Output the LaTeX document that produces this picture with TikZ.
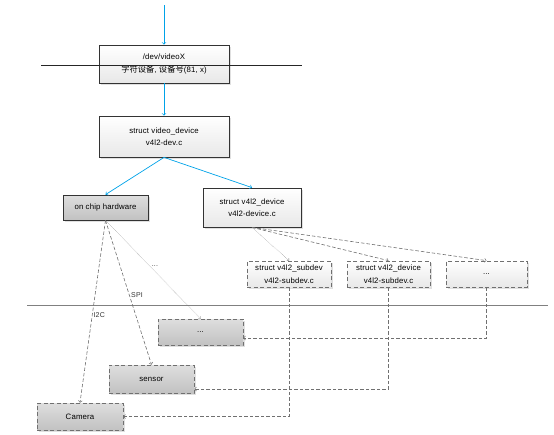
\documentclass[tikz,border=0pt]{standalone}
\usepackage{fontspec}
\setmainfont[LetterSpace=2]{Liberation Sans}
\newfontfamily\cjkfont{Noto Sans CJK SC}
\usepackage{tikz}
\usetikzlibrary{arrows,positioning,shadows}
\definecolor{linkblue}{RGB}{0,162,232}
\definecolor{boxgray}{RGB}{112,112,112}

\begin{document}
\begin{tikzpicture}[x=1pt,y=1pt,on grid,auto,>=to,
    font=\fontsize{7.8}{12.5}\selectfont,
    block/.style={rectangle,draw=black!80,line width=.8pt,top color=white,bottom color=black!9,
      align=center,inner sep=0pt,general shadow={fill=black!12,shadow xshift=1.5pt,shadow yshift=-1.5pt}},
    hw/.style={block,top color=black!13,bottom color=black!24},
    opt/.style={draw=boxgray,dash pattern=on 4pt off 2.5pt},
    link/.style={->,draw=linkblue,line width=.7pt},
    dep/.style={->,draw=boxgray,line width=.6pt,dash pattern=on 3.5pt off 2pt},
    hint/.style={->,draw=black!55,line width=.4pt,densely dotted},
    bus/.style={font=\fontsize{7}{8}\selectfont,fill=white,inner sep=.6pt,text=black!80}]

  \useasboundingbox (0,0) rectangle (554,-434);

  \node[block,minimum width=130,minimum height=38]	(0) at (164,-64)	{/dev/videoX\\{\cjkfont\fontsize{8.3}{12.5}\selectfont 字符设备}, {\cjkfont\fontsize{8.3}{12.5}\selectfont 设备号}(81, x)};
  \node[block,minimum width=130,minimum height=41]	(1) [below=72.5 of 0]	{struct video\_device\\v4l2-dev.c};
  \node[hw,minimum width=85,minimum height=25]	(2) at (105.5,-207.5)	{on chip hardware};
  \node[block,minimum width=98,minimum height=39]	(3) [right=146.5 of 2]	{struct v4l2\_device\\v4l2-device.c};
  \node[block,opt,minimum width=84,minimum height=26]	(4) at (289,-274)	{struct v4l2\_subdev\\v4l2-subdev.c};
  \node[block,opt,minimum width=83,minimum height=26]	(5) [right=99.5 of 4]	{struct v4l2\_device\\v4l2-subdev.c};
  \node[block,opt,minimum width=81,minimum height=26]	(6) [right=98 of 5]	{...};
  \node[hw,opt,minimum width=85,minimum height=26]	(7) at (200.5,-332)	{...};
  \node[hw,opt,minimum width=85,minimum height=28]	(8) at (151.5,-379)	{sensor};
  \node[hw,opt,minimum width=86,minimum height=27]	(9) at (80,-416.5)	{Camera};

  \coordinate (src) at (164,-5);
  \coordinate (cutl) at (41,-65);
  \coordinate (cutr) at (302,-65);
  \coordinate (sepl) at (27,-305);
  \coordinate (sepr) at (548,-305);

  \draw[black!85,line width=.7pt] (cutl) -- (cutr);
  \draw[black!50,line width=.8pt] (sepl) -- (sepr);

  \path
     (src)	edge [link]	(0)
     (0)	edge [link]	(1)
     (1.south)	edge [link]	(2.north)
     (1.south)	edge [link]	(3.north)
     (3.south)	edge [hint]	(4.north)
     (3.south)	edge [dep]	(5.north)
     (3.south)	edge [dep]	(6.north)
     (2.south)	edge [dep]	node [bus,pos=.5] {I2C} (9.north)
     (2.south)	edge [dep]	node [bus,pos=.54] {SPI} (8.north)
     (2.south)	edge [hint]	node [bus,pos=.48] {...} (7.north)
  ;

  \draw[dep] (4.south) |- (9.east);
  \draw[dep] (5.south) |- ([yshift=-10pt]8.east);
  \draw[dep] (6.south) |- ([yshift=-6pt]7.east);
\end{tikzpicture}
\end{document}
